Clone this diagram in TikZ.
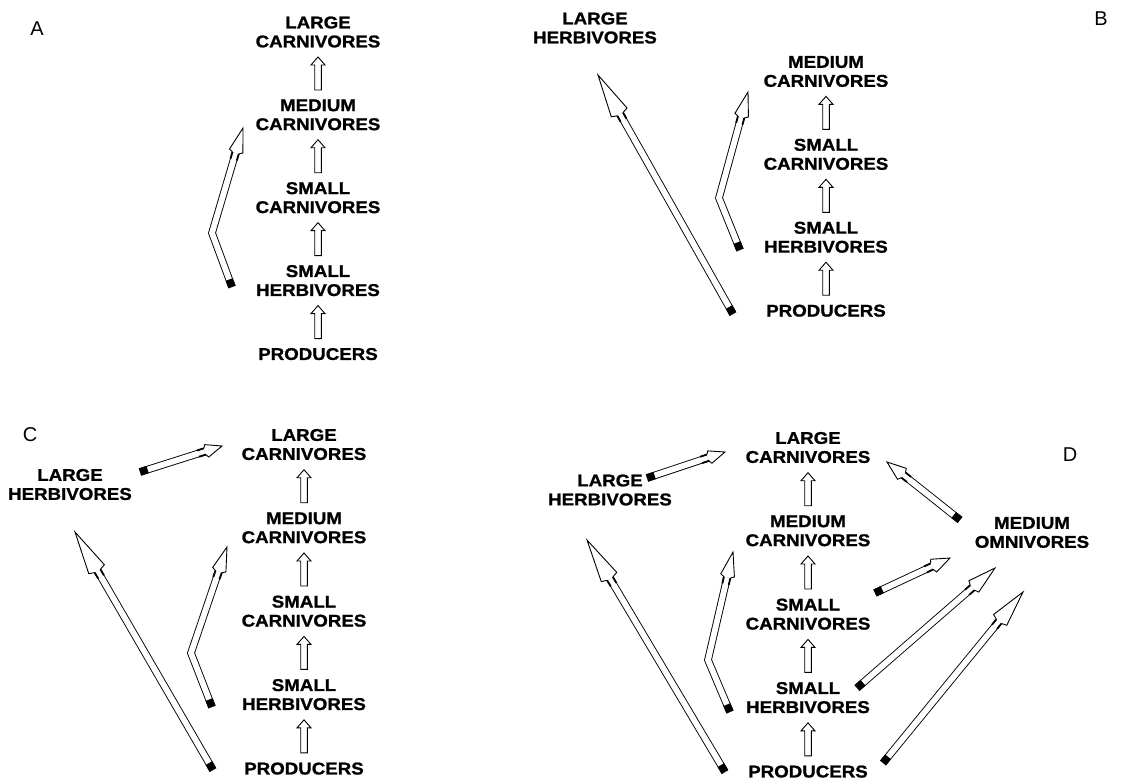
\documentclass[tikz,border=0pt]{standalone}
\usepackage{fontspec}
\setmainfont{Liberation Sans}
\newfontfamily\lvlfont[FakeStretch=1.1,FakeBold=1.2]{Liberation Sans}
\usetikzlibrary{positioning,calc}

% hollow step arrow between two levels of a column
\newcommand\stepup[2]{%
  \coordinate (m) at ($(#1.north)!.5!(#2.south)$);
  \draw[block] ($(m)+(-3.3,-16.5)$) -- ($(m)+(-3.3,8.5)$) -- ($(m)+(-7,8.5)$)
    -- ($(m)+(0,16.5)$) -- ($(m)+(7,8.5)$) -- ($(m)+(3.3,8.5)$)
    -- ($(m)+(3.3,-16.5)$) -- cycle;}
% black end of a fat arrow
\newcommand\tailcap[2]{\draw[line width=7.6pt] (#1) -- ($(#1)!8pt!(#2)$);}
% open head of a fat arrow: from, tip, length, half width
\newcommand\headat[4]{%
  \coordinate (hb) at ($(#2)!#3pt-2pt!(#1)$);
  \coordinate (hj) at ($(#2)!#3pt!(#1)$);
  \coordinate (hk) at ($(#2)!#3pt+7pt!(#1)$);
  \fill[white] ($(hj)!3.7pt!90:(#2)$) -- ($(hb)!#4pt!90:(#2)$) -- (#2)
    -- ($(hb)!#4pt!-90:(#2)$) -- ($(hj)!3.7pt!-90:(#2)$) -- cycle;
  \draw[line width=.9pt, line join=miter] ($(hj)!3.3pt!90:(#2)$) -- ($(hb)!#4pt!90:(#2)$)
    -- (#2) -- ($(hb)!#4pt!-90:(#2)$) -- ($(hj)!3.3pt!-90:(#2)$);
  \draw[line width=1.8pt] ($(hj)!3.3pt!90:(#2)$) -- ($(hk)!3.3pt!90:(#2)$);
  \draw[line width=1.8pt] ($(hj)!3.3pt!-90:(#2)$) -- ($(hk)!3.3pt!-90:(#2)$);}
\newcommand\fatline[4]{%
  \draw[fat, shorten >=#3pt] (#1) -- (#2);
  \tailcap{#1}{#2}\headat{#1}{#2}{#3}{#4}}
\newcommand\fatbent[5]{%
  \draw[fat, shorten >=#4pt] (#1) -- (#2) -- (#3);
  \tailcap{#1}{#2}\headat{#2}{#3}{#4}{#5}}

\begin{document}
\begin{tikzpicture}[x=1pt, y=1pt,
  lvl/.style={font=\lvlfont\bfseries\fontsize{17}{19}\selectfont, align=center, inner sep=0pt},
  tag/.style={font=\fontsize{20}{20}\selectfont, inner sep=0pt},
  fat/.style={line width=.9pt, double=white, double distance=5.8pt, line join=miter},
  block/.style={draw, fill=white, line width=.9pt, line join=miter}
]
\useasboundingbox (0,0) rectangle (1127,-781);

% A
\node[tag] (tA) at (37,-29) {A};
\node[lvl] (aLC) at (318,-32) {LARGE\\CARNIVORES};
\node[lvl, below=51.5pt of aLC] (aMC) {MEDIUM\\CARNIVORES};
\node[lvl, below=51.5pt of aMC] (aSC) {SMALL\\CARNIVORES};
\node[lvl, below=51.5pt of aSC] (aSH) {SMALL\\HERBIVORES};
\node[lvl, below=51.5pt of aSH] (aP) {PRODUCERS};
\stepup{aMC}{aLC} \stepup{aSC}{aMC} \stepup{aSH}{aSC} \stepup{aP}{aSH}
\coordinate (a1t) at (232,-287); \coordinate (a1b) at (212,-233); \coordinate (a1h) at (243,-128);
\fatbent{a1t}{a1b}{a1h}{26}{7}

% B
\node[tag] (tB) at (1101,-19) {B};
\node[lvl] (bLH) at (595,-28) {LARGE\\HERBIVORES};
\node[lvl] (bMC) at (826,-71.5) {MEDIUM\\CARNIVORES};
\node[lvl, below=51.5pt of bMC] (bSC) {SMALL\\CARNIVORES};
\node[lvl, below=51.5pt of bSC] (bSH) {SMALL\\HERBIVORES};
\node[lvl, below=51.5pt of bSH] (bP) {PRODUCERS};
\stepup{bSC}{bMC} \stepup{bSH}{bSC} \stepup{bP}{bSH}
\coordinate (b1t) at (733,-314); \coordinate (b1h) at (598,-75);
\fatline{b1t}{b1h}{45}{9}
\coordinate (b2t) at (740,-250); \coordinate (b2b) at (719,-198); \coordinate (b2h) at (748,-92);
\fatbent{b2t}{b2b}{b2h}{26}{7}

% C
\node[tag] (tC) at (30,-435) {C};
\node[lvl] (cLH) at (70,-484.5) {LARGE\\HERBIVORES};
\node[lvl] (cLC) at (304,-444.5) {LARGE\\CARNIVORES};
\node[lvl, below=52pt of cLC] (cMC) {MEDIUM\\CARNIVORES};
\node[lvl, below=52pt of cMC] (cSC) {SMALL\\CARNIVORES};
\node[lvl, below=52pt of cSC] (cSH) {SMALL\\HERBIVORES};
\node[lvl, below=52pt of cSH] (cP) {PRODUCERS};
\stepup{cMC}{cLC} \stepup{cSC}{cMC} \stepup{cSH}{cSC} \stepup{cP}{cSH}
\coordinate (c1t) at (140,-472); \coordinate (c1h) at (222,-446);
\fatline{c1t}{c1h}{18}{6.5}
\coordinate (c2t) at (213,-770); \coordinate (c2h) at (75,-532);
\fatline{c2t}{c2h}{45}{9}
\coordinate (c3t) at (212,-707); \coordinate (c3b) at (191,-653); \coordinate (c3h) at (227,-547);
\fatbent{c3t}{c3b}{c3h}{26}{7}

% D
\node[tag] (tD) at (1070,-455) {D};
\node[lvl] (dLH) at (610,-490) {LARGE\\HERBIVORES};
\node[lvl] (dMO) at (1032,-532.5) {MEDIUM\\OMNIVORES};
\node[lvl] (dLC) at (808,-447.5) {LARGE\\CARNIVORES};
\node[lvl, below=52pt of dLC] (dMC) {MEDIUM\\CARNIVORES};
\node[lvl, below=52pt of dMC] (dSC) {SMALL\\CARNIVORES};
\node[lvl, below=52pt of dSC] (dSH) {SMALL\\HERBIVORES};
\node[lvl, below=52pt of dSH] (dP) {PRODUCERS};
\stepup{dMC}{dLC} \stepup{dSC}{dMC} \stepup{dSH}{dSC} \stepup{dP}{dSH}
\coordinate (d1t) at (647,-478); \coordinate (d1h) at (725,-452);
\fatline{d1t}{d1h}{18}{6.5}
\coordinate (d2t) at (960,-520); \coordinate (d2h) at (887,-462);
\fatline{d2t}{d2h}{21}{7}
\coordinate (d3t) at (875,-593); \coordinate (d3h) at (950,-558);
\fatline{d3t}{d3h}{20}{7}
\coordinate (d4t) at (857,-688); \coordinate (d4h) at (995,-568);
\fatline{d4t}{d4h}{30}{7.5}
\coordinate (d5t) at (883,-763); \coordinate (d5h) at (1023,-592);
\fatline{d5t}{d5h}{38}{8.5}
\coordinate (d6t) at (725,-772); \coordinate (d6h) at (587,-540);
\fatline{d6t}{d6h}{45}{9}
\coordinate (d7t) at (730,-712); \coordinate (d7b) at (708,-660); \coordinate (d7h) at (733,-552);
\fatbent{d7t}{d7b}{d7h}{26}{7}
\end{tikzpicture}
\end{document}
